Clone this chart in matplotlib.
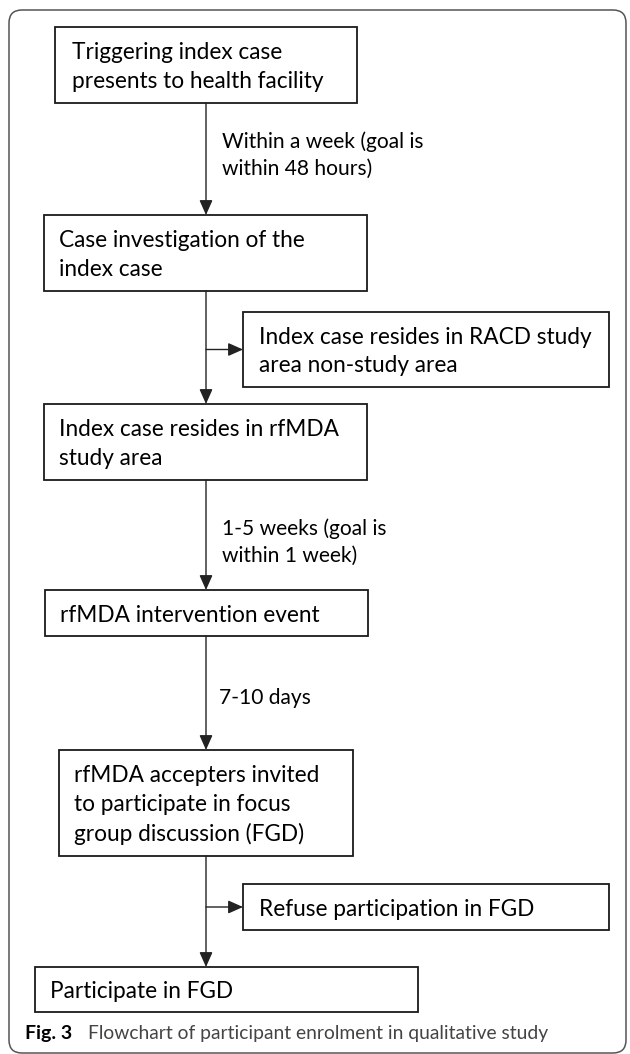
import matplotlib.pyplot as plt
from matplotlib.patches import Rectangle, FancyBboxPatch

# box texts
box_texts = [
    "Triggering index case\npresents to health facility",
    "Case investigation of the\nindex case",
    "Index case resides in RACD study\narea non-study area",
    "Index case resides in rfMDA\nstudy area",
    "rfMDA intervention event",
    "rfMDA accepters invited\nto participate in focus\ngroup discussion (FGD)",
    "Refuse participation in FGD",
    "Participate in FGD",
]
# labels on the main arrows
edge_labels = [
    "Within a week (goal is\nwithin 48 hours)",
    "1-5 weeks (goal is\nwithin 1 week)",
    "7-10 days",
]
caption_bold = "Fig. 3"
caption_text = "Flowchart of participant enrolment in qualitative study"

# layout in pixels (x0, y0, x1, y1), y goes down
boxes = [
    (55, 27, 357, 103),
    (44, 215, 367, 291),
    (243, 312, 609, 387),
    (44, 404, 367, 480),
    (45, 590, 368, 636),
    (59, 750, 353, 856),
    (243, 884, 609, 930),
    (35, 967, 418, 1012),
]
pads = [17, 15, 16, 15, 15, 15, 16, 15]
trunk_x = 206

W, H = 630, 1054
fig = plt.figure(figsize=(W / 100, H / 100), dpi=100)
ax = fig.add_axes([0, 0, 1, 1])
ax.set_xlim(0, W)
ax.set_ylim(H, 0)
ax.axis('off')

font = ['Lato', 'DejaVu Sans']
fs = 16.3
line_col = '#222222'

# outer frame
frame = FancyBboxPatch((9, 10), 617, 1043, boxstyle='round,pad=0,rounding_size=13',
                       fill=False, edgecolor='#555555', linewidth=1.1)
ax.add_patch(frame)

for (x0, y0, x1, y1), txt, pad in zip(boxes, box_texts, pads):
    ax.add_patch(Rectangle((x0, y0), x1 - x0, y1 - y0, fill=False,
                           edgecolor='#1a1a1a', linewidth=1.3))
    ax.text(x0 + pad, (y0 + y1) / 2 + 2, txt, ha='left', va='center',
            fontsize=fs, family=font, linespacing=1.47, color='black')


def arrow(x0, y0, x1, y1):
    ax.annotate('', xy=(x1, y1), xytext=(x0, y0),
                arrowprops=dict(arrowstyle='-|>,head_length=0.45,head_width=0.2',
                                mutation_scale=20, color=line_col, lw=1.0,
                                shrinkA=0, shrinkB=0))


# main flow arrows
arrow(trunk_x, boxes[0][3], trunk_x, boxes[1][1])
arrow(trunk_x, boxes[1][3], trunk_x, boxes[3][1])
arrow(trunk_x, boxes[3][3], trunk_x, boxes[4][1])
arrow(trunk_x, boxes[4][3], trunk_x, boxes[5][1])
arrow(trunk_x, boxes[5][3], trunk_x, boxes[7][1])

# side branches
for side in (2, 6):
    yb = (boxes[side][1] + boxes[side][3]) / 2
    arrow(trunk_x, yb, boxes[side][0], yb)

# edge labels
label_pos = [(222, 155), (222, 542), (219, 698)]
for (lx, ly), txt in zip(label_pos, edge_labels):
    ax.text(lx, ly, txt, ha='left', va='center', fontsize=15.1,
            family=font, linespacing=1.45, color='black')

# caption
ax.text(25, 1034, caption_bold, ha='left', va='center', fontsize=14,
        family=font, fontweight='bold', color='black')
ax.text(88, 1034, caption_text, ha='left', va='center', fontsize=13.9,
        family=font, fontweight='normal', color='#444444')

fig.savefig('out.png', dpi=100)
